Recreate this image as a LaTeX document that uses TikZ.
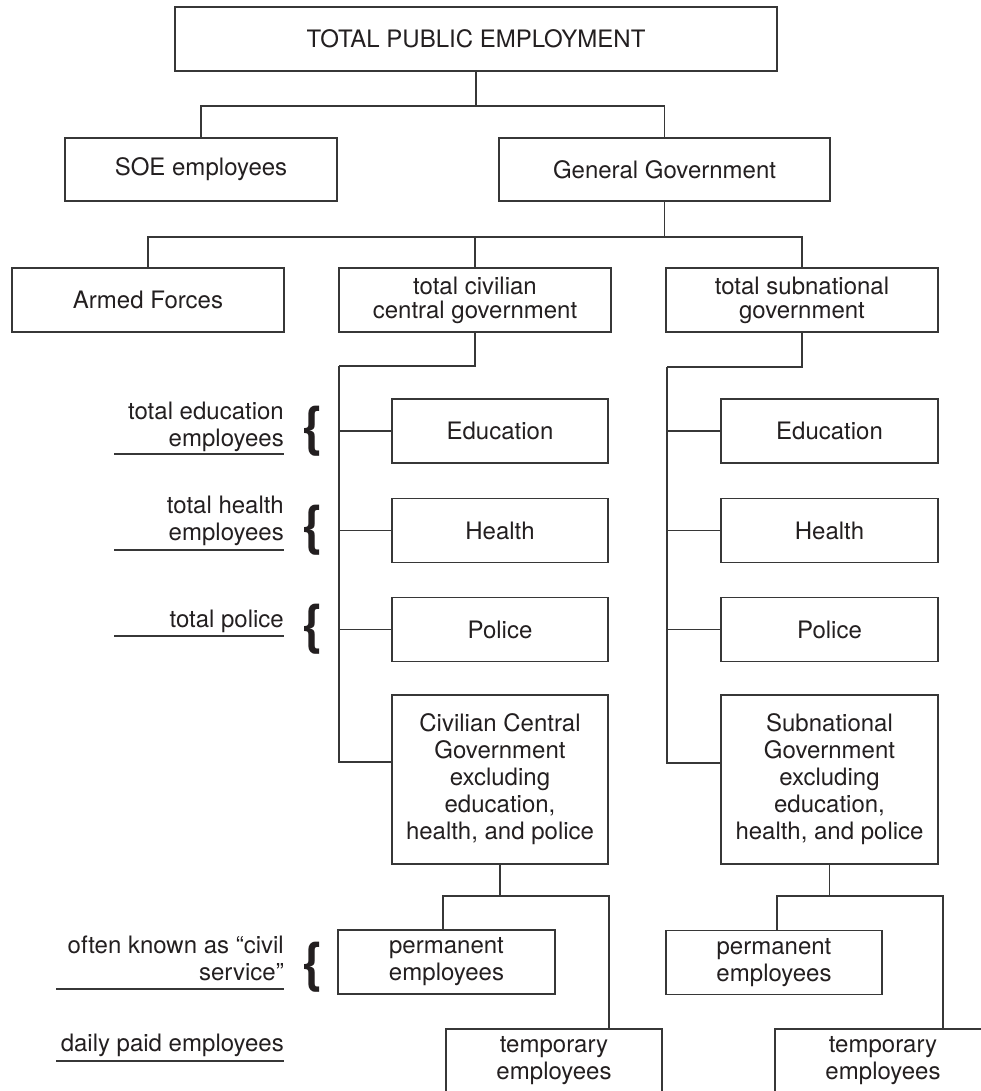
\documentclass[tikz,border=0pt]{standalone}
\usepackage{fontspec}
\setmainfont{TeX Gyre Heros}
\definecolor{ln}{RGB}{55,55,55}
\definecolor{tx}{RGB}{35,31,32}
\begin{document}
\begin{tikzpicture}[x=1pt,y=-1pt,
  box/.style={draw=ln, line width=1.3pt, fill=white, text=tx, align=center, inner sep=0pt, font=\fontsize{24}{27}\selectfont},
  tight/.style={font=\fontsize{24}{24}\selectfont},
  conn/.style={draw=ln, line width=1.3pt},
  uline/.style={draw=ln, line width=1.2pt},
  anno/.style={text=tx, inner sep=0pt, font=\fontsize{24}{27}\selectfont},
  bracesym/.style={text=tx, inner sep=0pt, font=\fontsize{54}{54}\selectfont\bfseries}]
\useasboundingbox (0,0) rectangle (981,1091);

% level 1-2
\node[box, minimum width=602pt, minimum height=64pt] (tpe) at (476,39) {TOTAL PUBLIC EMPLOYMENT};
\node[box, minimum width=272pt, minimum height=63pt] (soe) at (201,169.5) {SOE employees};
\node[box, minimum width=331pt, minimum height=63pt] (gg) at (664.5,169.5) {General Government};

% level 3
\node[box, minimum width=272pt, minimum height=64pt] (armed) at (148,300) {Armed Forces};
\node[box, tight, minimum width=272pt, minimum height=64pt] (tcc) at (475,300) {total civilian\\central government};
\node[box, tight, minimum width=272pt, minimum height=64pt] (tsn) at (802,300) {total subnational\\government};

% central branches
\node[box, minimum width=216pt, minimum height=64pt] (cedu) at (500,431) {Education};
\node[box, minimum width=216pt, minimum height=64pt] (chea) at (500,530.5) {Health};
\node[box, minimum width=216pt, minimum height=64pt] (cpol) at (500,629.5) {Police};
\node[box, minimum width=216pt, minimum height=169pt] (cexc) at (500,779.5) {Civilian Central\\Government\\excluding\\education,\\health, and police};

% subnational branches
\node[box, minimum width=217pt, minimum height=64pt] (sedu) at (829.5,431) {Education};
\node[box, minimum width=217pt, minimum height=64pt] (shea) at (829.5,530.5) {Health};
\node[box, minimum width=217pt, minimum height=64pt] (spol) at (829.5,629.5) {Police};
\node[box, minimum width=217pt, minimum height=169pt] (sexc) at (829.5,779.5) {Subnational\\Government\\excluding\\education,\\health, and police};

% bottom
\node[box, minimum width=217pt, minimum height=64pt] (cperm) at (446.5,962) {permanent\\employees};
\node[box, minimum width=216pt, minimum height=64pt] (ctemp) at (554,1061) {temporary\\employees};
\node[box, minimum width=216pt, minimum height=64pt] (sperm) at (774,962.5) {permanent\\employees};
\node[box, minimum width=216pt, minimum height=64pt] (stemp) at (883,1061) {temporary\\employees};

% connectors top
\coordinate (j1) at (tpe.south |- 0,106);
\draw[conn] (tpe.south) -- (j1);
\draw[conn] (j1) -| (soe.north);
\draw[conn] (j1) -| (gg.north);
\coordinate (j2) at (gg.south |- 0,237);
\draw[conn] (gg.south) -- (j2);
\draw[conn] (j2) -| (armed.north);
\draw[conn] (j2) -| (tcc.north);
\draw[conn] (j2) -| (tsn.north);

% central spine
\coordinate (c1) at (tcc.south |- 0,366);
\coordinate (c2) at (339,366);
\draw[conn] (tcc.south) -- (c1) -- (c2);
\draw[conn] (c2) |- (cedu.west);
\draw[conn] (c2) |- (chea.west);
\draw[conn] (c2) |- (cpol.west);
\draw[conn] (c2) |- (cexc.west |- 0,762);

% subnational spine
\coordinate (s1) at (tsn.south |- 0,367);
\coordinate (s2) at (667,367);
\draw[conn] (tsn.south) -- (s1) -- (s2);
\draw[conn] (s2) |- (sedu.west);
\draw[conn] (s2) |- (shea.west);
\draw[conn] (s2) |- (spol.west);
\draw[conn] (s2) |- (sexc.west |- 0,763);

% bottom connectors
\coordinate (c3) at (cexc.south |- 0,896);
\draw[conn] (cexc.south) -- (c3);
\draw[conn] (c3) -| (cperm.north -| 443,0);
\draw[conn] (c3) -| (ctemp.north -| 609,0);
\coordinate (s3) at (sexc.south |- 0,896);
\draw[conn] (sexc.south) -- (s3);
\draw[conn] (s3) -| (sperm.north -| 777,0);
\draw[conn] (s3) -| (stemp.north -| 943,0);

% annotations
\node[anno, anchor=base east] (aedu) at (284,446) {\begin{tabular}[b]{@{}r@{}}total education\\employees\end{tabular}};
\node[anno, anchor=base east] (ahea) at (284,540) {\begin{tabular}[b]{@{}r@{}}total health\\employees\end{tabular}};
\node[anno, anchor=base east] (apol) at (284,627) {total police};
\node[anno, anchor=base east] (aciv) at (284,980) {\begin{tabular}[b]{@{}r@{}}often known as ``civil\\service''\end{tabular}};
\node[anno, anchor=base east] (adly) at (284,1051) {daily paid employees};

\draw[uline] (114,454) -- (284,454);
\draw[uline] (114,550) -- (284,550);
\draw[uline] (114,636) -- (284,636);
\draw[uline] (56,989) -- (284,989);
\draw[uline] (56,1061) -- (284,1061);

\node[bracesym] (b1) at (313,431.5) {\{};
\node[bracesym] (b2) at (313,530) {\{};
\node[bracesym] (b3) at (313,629) {\{};
\node[bracesym] (b4) at (313,967) {\{};
\end{tikzpicture}
\end{document}
